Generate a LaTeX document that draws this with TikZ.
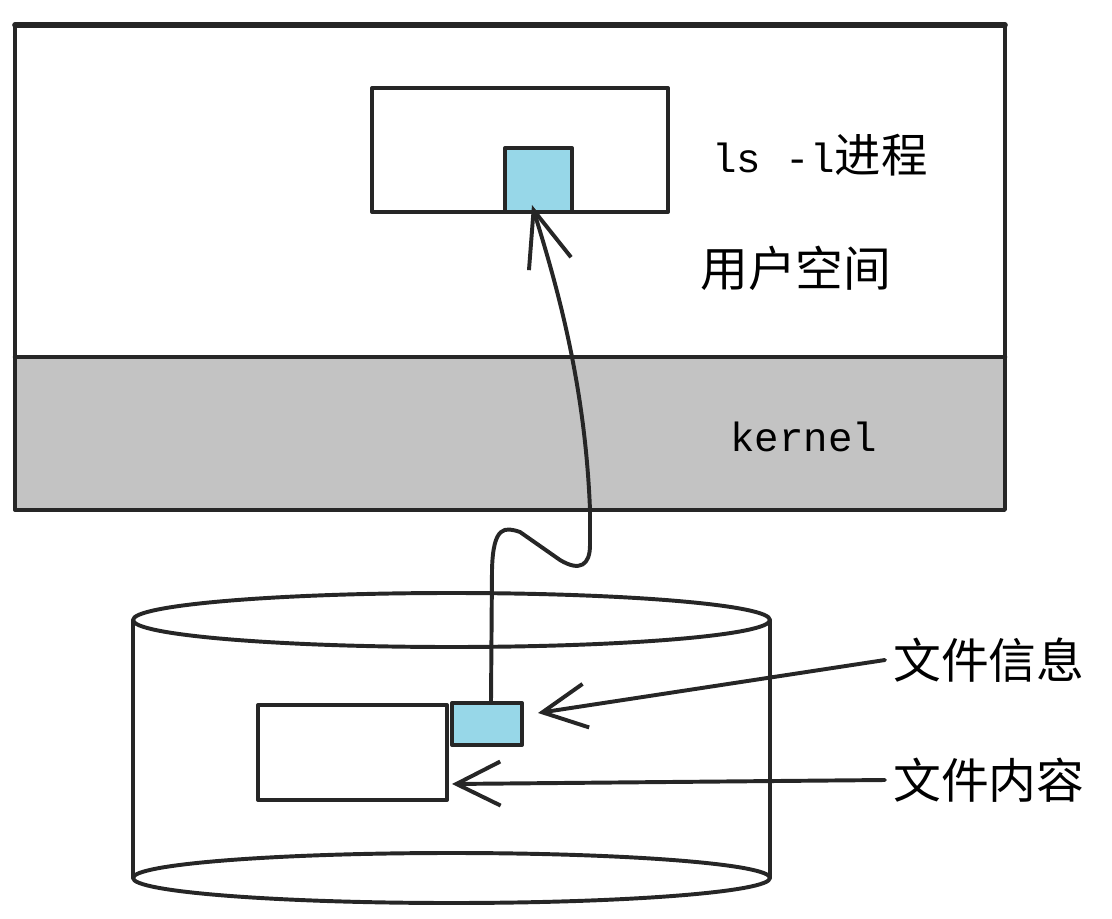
\documentclass[tikz,border=0pt]{standalone}
\usepackage{fontspec}
\setmonofont{Liberation Mono}
\newfontfamily\cjk{Noto Sans CJK SC}
\usetikzlibrary{arrows.meta}
\definecolor{cellblue}{HTML}{97D7E8}
\definecolor{kernelgray}{HTML}{C3C3C3}
\begin{document}
\begin{tikzpicture}[x=0.025cm, y=-0.025cm, line join=round, line cap=round,
  pen/.style={draw=black!85, line width=2.8pt},
  box/.style={pen, fill=white, inner sep=0pt},
  cell/.style={pen, fill=cellblue, inner sep=0pt},
  lbl/.style={anchor=west, inner sep=0pt, font=\fontsize{34}{40}\selectfont\cjk},
  code/.style={anchor=west, inner sep=0pt, font=\fontsize{29}{34}\selectfont\ttfamily},
  barb/.style={pen, -{Straight Barb[length=1.1cm, width=1.1cm]}}]
  \useasboundingbox (0,0) rectangle (1112,919);
  % user space and kernel
  \fill[kernelgray] (15,357) rectangle (1005,510);
  \draw[pen, line width=2.4pt] (15,25) rectangle (1005,510);
  \draw[pen, line width=3.2pt] (15,357) -- (1005,357);
  \draw[pen, line width=4pt] (15,25) -- (1005,25);
  \node[box, minimum width=7.4cm, minimum height=3.1cm] (proc) at (520,150) {};
  \node[cell, minimum width=1.675cm, minimum height=1.6cm] (pcell) at (538.5,180) {};
  \node[code] (lsname) at (712,155) {ls -l{\fontsize{33}{40}\selectfont\cjk 进程}};
  \node[lbl] (uspace) at (700,268) {用户空间};
  \node[code] (kname) at (730,437) {kernel};
  % disk
  \draw[pen, line width=2.2pt] (133,620) -- (133,878) (770,620) -- (770,878);
  \draw[pen, fill=white] (451.5,620) ellipse [x radius=318.5, y radius=27];
  \draw[pen] (451.5,878) ellipse [x radius=318.5, y radius=25];
  \node[box, minimum width=4.725cm, minimum height=2.375cm] (dfile) at (352.5,752.5) {};
  \node[cell, minimum width=1.75cm, minimum height=1.05cm] (dcell) at (487,724) {};
  \node[lbl] (info) at (893,660) {文件信息};
  \node[lbl] (content) at (893,780) {文件内容};
  % arrows
  \coordinate (ptip) at (532,205);
  \coordinate (infotip) at (538,713);
  \coordinate (contip) at (452,784);
  \draw[pen, -{Straight Barb[length=1.4cm, width=1.1cm]}] ([xshift=0.1cm]dcell.north) -- (492,570)
    .. controls (493,525) and (505,527) .. (520,532) -- (560,560)
    .. controls (580,572) and (590,565) .. (590,545) -- (590,510)
    .. controls (585,380) and (555,280) .. (ptip);
  \draw[barb] ([xshift=-0.2cm]info.west) -- (infotip);
  \draw[barb] ([xshift=-0.2cm]content.west) -- (contip);
\end{tikzpicture}
\end{document}
